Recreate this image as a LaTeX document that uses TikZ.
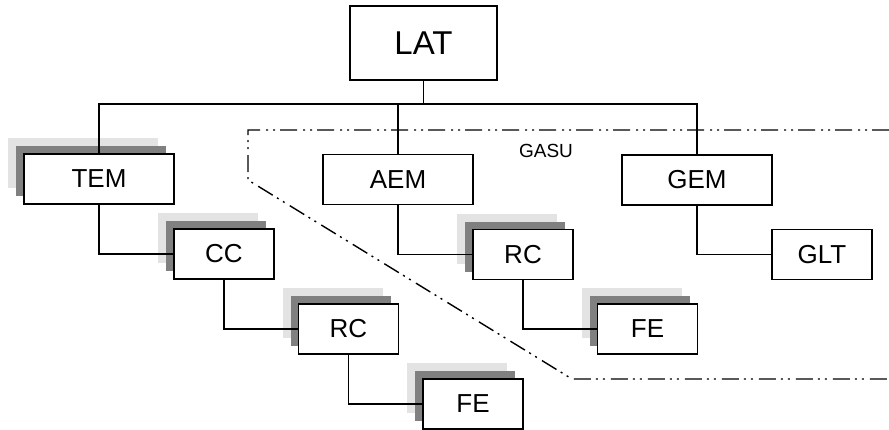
\documentclass[tikz,border=0pt]{standalone}
\usepackage{fontspec}
\setmainfont{Liberation Sans}
\usetikzlibrary{shadows}

\tikzset{
  unit/.style={draw, fill=white, line width=1.5pt, inner sep=0pt,
    minimum width=150pt, minimum height=50pt,
    font=\fontsize{26}{30}\selectfont},
  small/.style={unit, minimum width=100pt},
  % two grey copies behind a box, up and to the left
  stacked/.style={
    copy shadow={shadow xshift=-16pt, shadow yshift=16pt, fill=black!11, draw=none},
    copy shadow={shadow xshift=-8pt, shadow yshift=8pt, fill=black!50, draw=none}},
  link/.style={line width=1.2pt},
  region/.style={line width=1.4pt,
    dash pattern=on 17pt off 5pt on 2pt off 5pt on 2pt off 6pt}
}

\begin{document}
\begin{tikzpicture}[x=1pt,y=-1pt]
    \useasboundingbox (0,0) rectangle (889,429);

    % GASU boundary
    \draw[region] (889,130) -- (248,130) -- (248,180) -- (572,379) -- (889,379);
    \node[font=\fontsize{19}{22}\selectfont] (gasu) at (546,151) {GASU};

    \node[unit, minimum width=147pt, minimum height=74pt,
          font=\fontsize{33}{38}\selectfont] (lat) at (423.5,43) {LAT};
    \coordinate (bus) at (423.5,104);

    \node[unit, stacked] (tem) at (99,179) {TEM};
    \node[small, stacked] (cc) at (224,254) {CC};
    \node[small, stacked] (rca) at (348.5,329) {RC};
    \node[small, stacked] (fea) at (473,404) {FE};

    \node[unit] (aem) at (398,179.5) {AEM};
    \node[small, stacked] (rcb) at (523,254.5) {RC};
    \node[small, stacked] (feb) at (647.5,329) {FE};

    \node[unit] (gem) at (697,180) {GEM};
    \node[small] (glt) at (822,254.5) {GLT};

    % tree
    \draw[link] (lat) -- (bus);
    \draw[link] (tem.north) |- (bus) -| (gem.north);
    \draw[link] (aem.north) -- (aem.north |- bus);
    \draw[link] (tem.south) |- (cc.west);
    \draw[link] (cc.south) |- (rca.west);
    \draw[link] (rca.south) |- (fea.west);
    \draw[link] (aem.south) |- (rcb.west);
    \draw[link] (rcb.south) |- (feb.west);
    \draw[link] (gem.south) |- (glt.west);
\end{tikzpicture}
\end{document}
